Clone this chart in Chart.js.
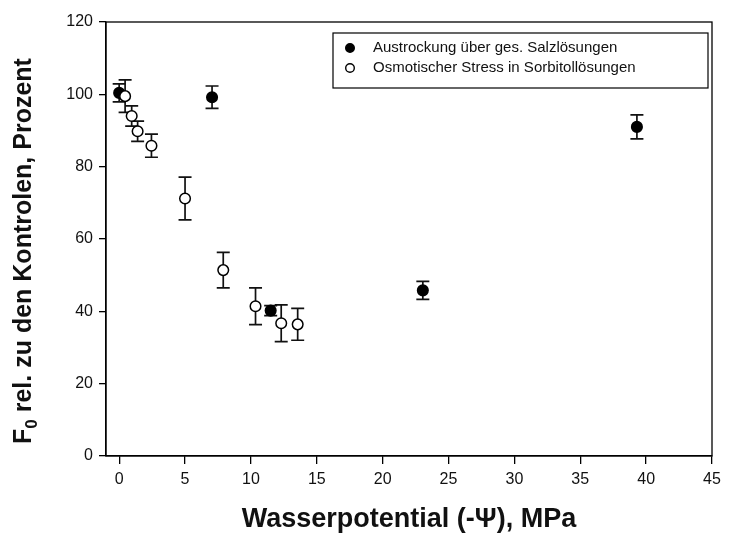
<!DOCTYPE html>
<html>
<head>
<meta charset="utf-8">
<script src="https://cdn.jsdelivr.net/npm/chart.js@4.4.1/dist/chart.umd.min.js"></script>
<style>
  html, body { margin: 0; padding: 0; background: #fff; }
  #wrap { width: 733px; height: 537px; }
</style>
</head>
<body>
<div id="wrap"><canvas id="fChart"></canvas></div>
<script>
// Austrocknung ueber gesaettigten Salzloesungen (filled)
const salzX = [0, 7.05, 11.5, 23.05, 39.3];
const salzY = [100.4, 99.2, 40.2, 45.8, 91.0];
const salzErr = [2.5, 3.1, 1.4, 2.5, 3.3];

// Osmotischer Stress in Sorbitolloesungen (open)
const sorbX = [0.45, 0.95, 1.4, 2.45, 5.0, 7.9, 10.35, 12.3, 13.55];
const sorbY = [99.5, 94.0, 89.8, 85.8, 71.2, 51.4, 41.4, 36.7, 36.4];
const sorbErr = [4.5, 2.8, 2.8, 3.2, 5.9, 4.9, 5.1, 5.1, 4.4];

const xTicks = [0, 5, 10, 15, 20, 25, 30, 35, 40, 45];
const yTicks = [0, 20, 40, 60, 80, 100, 120];

const labels = ['Austrockung über ges. Salzlösungen', 'Osmotischer Stress in Sorbitollösungen'];

function toPoints(xs, ys, errs) {
  return xs.map((x, i) => ({ x: x, y: ys[i], err: errs[i] }));
}

// error bars, drawn under the markers
const errorBars = {
  id: 'errorBars',
  beforeDatasetsDraw(chart) {
    const { ctx, scales: { x, y } } = chart;
    ctx.save();
    ctx.strokeStyle = '#111';
    ctx.lineWidth = 1.7;
    chart.data.datasets.forEach(ds => {
      ds.data.forEach(p => {
        const px = x.getPixelForValue(p.x);
        const top = y.getPixelForValue(p.y + p.err);
        const bot = y.getPixelForValue(p.y - p.err);
        ctx.beginPath();
        ctx.moveTo(px, top); ctx.lineTo(px, bot);
        ctx.moveTo(px - 6.5, top); ctx.lineTo(px + 6.5, top);
        ctx.moveTo(px - 6.5, bot); ctx.lineTo(px + 6.5, bot);
        ctx.stroke();
      });
    });
    ctx.restore();
  }
};

// box around the plot, boxed legend top right, y title with real subscript
const frameAndLegend = {
  id: 'frameAndLegend',
  afterDraw(chart) {
    const { ctx, chartArea: a } = chart;
    ctx.save();
    ctx.strokeStyle = '#000';
    ctx.lineWidth = 1.3;
    ctx.strokeRect(a.left, a.top, a.right - a.left, a.bottom - a.top);

    const bx = a.left + 227, by = a.top + 11, bw = 375, bh = 55;
    ctx.lineWidth = 1.2;
    ctx.strokeRect(bx, by, bw, bh);

    ctx.font = '15px "Liberation Sans", Arial, sans-serif';
    ctx.textBaseline = 'middle';
    const order = [1, 0];
    labels.forEach((txt, i) => {
      const ds = chart.data.datasets[order[i]];
      const ry = by + 15 + i * 20;
      ctx.beginPath();
      ctx.arc(bx + 17, ry, 4.3, 0, Math.PI * 2);
      ctx.fillStyle = ds.backgroundColor;
      ctx.fill();
      ctx.lineWidth = 1.4;
      ctx.strokeStyle = '#000';
      ctx.stroke();
      ctx.fillStyle = '#111';
      ctx.fillText(txt, bx + 40, ry);
    });

    // y axis title: F with subscript 0
    const big = 'bold 25px "Liberation Sans", Arial, sans-serif';
    const small = 'bold 17px "Liberation Sans", Arial, sans-serif';
    const rest = ' rel. zu den Kontrolen, Prozent';
    ctx.font = big;
    const wF = ctx.measureText('F').width;
    const wRest = ctx.measureText(rest).width;
    ctx.font = small;
    const w0 = ctx.measureText('0').width;
    const total = wF + w0 + wRest;
    ctx.translate(31, 251);
    ctx.rotate(-Math.PI / 2);
    ctx.textBaseline = 'alphabetic';
    ctx.fillStyle = '#111';
    let cx = -total / 2;
    ctx.font = big;
    ctx.fillText('F', cx, 0);
    cx += wF;
    ctx.font = small;
    ctx.fillText('0', cx, 6);
    cx += w0;
    ctx.font = big;
    ctx.fillText(rest, cx, 0);
    ctx.restore();
  }
};

const tickFont = { family: '"Liberation Sans", Arial, sans-serif', size: 16 };

new Chart(document.getElementById('fChart').getContext('2d'), {
  type: 'scatter',
  data: {
    datasets: [{
      label: labels[1],
      data: toPoints(sorbX, sorbY, sorbErr),
      backgroundColor: '#ffffff',
      borderColor: '#000000',
      borderWidth: 1.5,
      pointRadius: 5.3,
      order: 0
    }, {
      label: labels[0],
      data: toPoints(salzX, salzY, salzErr),
      backgroundColor: '#000000',
      borderColor: '#000000',
      borderWidth: 1.5,
      pointRadius: 5.3,
      order: 1
    }]
  },
  options: {
    responsive: true,
    maintainAspectRatio: false,
    animation: false,
    devicePixelRatio: 1,
    layout: { padding: { top: 22, right: 21, bottom: 0, left: 0 } },
    plugins: { legend: { display: false }, tooltip: { enabled: false } },
    scales: {
      x: {
        type: 'linear',
        min: -1,
        max: 45,
        afterBuildTicks: s => { s.ticks = xTicks.map(v => ({ value: v })); },
        afterFit: s => { s.height = 81; },
        grid: { drawOnChartArea: false, drawTicks: true, tickLength: 8, color: '#000', lineWidth: 1.3 },
        border: { display: true, color: '#000', width: 1.3 },
        ticks: { font: tickFont, color: '#111', padding: 6, maxRotation: 0, autoSkip: false },
        title: {
          display: true,
          text: 'Wasserpotential (-Ψ), MPa',
          color: '#111',
          font: { family: '"Liberation Sans", Arial, sans-serif', size: 27, weight: 'bold' },
          padding: { top: 0, bottom: 1 }
        }
      },
      y: {
        min: 0,
        max: 120,
        afterBuildTicks: s => { s.ticks = yTicks.map(v => ({ value: v })); },
        afterFit: s => { s.width = 106; },
        grid: { drawOnChartArea: false, drawTicks: true, tickLength: 7, color: '#000', lineWidth: 1.3 },
        border: { display: true, color: '#000', width: 1.3 },
        ticks: { font: tickFont, color: '#111', padding: 6 },
        title: { display: false }
      }
    }
  },
  plugins: [errorBars, frameAndLegend]
});
</script>
</body>
</html>
